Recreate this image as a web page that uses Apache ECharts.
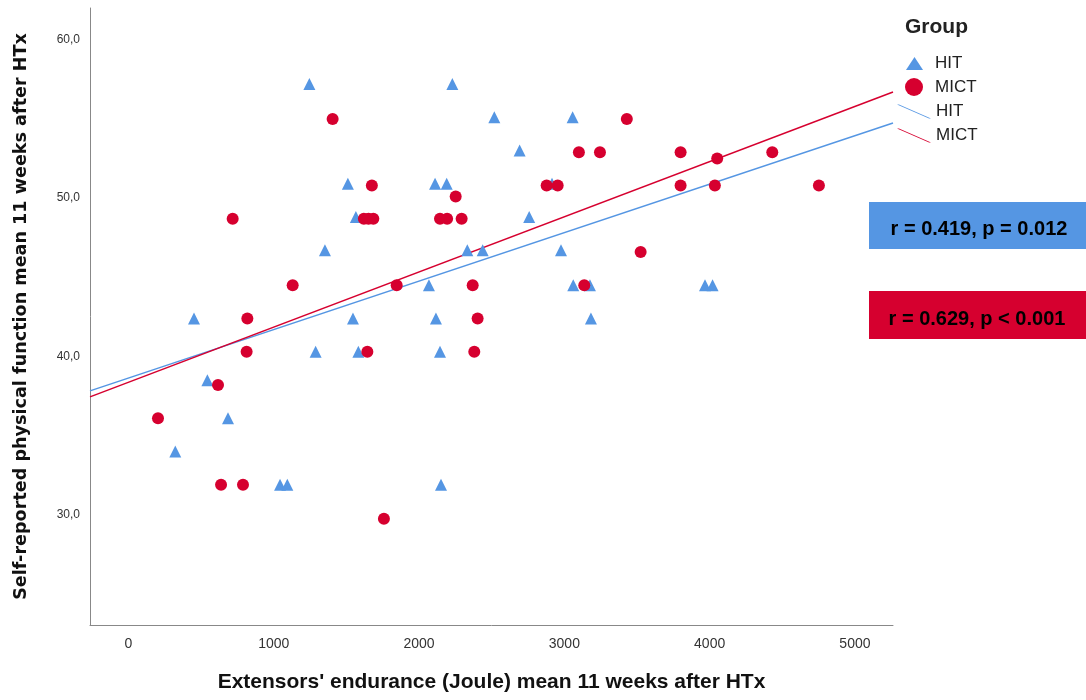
<!DOCTYPE html>
<html>
<head>
<meta charset="utf-8">
<script src="https://cdn.jsdelivr.net/npm/echarts@6/dist/echarts.min.js"></script>
<style>html,body{margin:0;padding:0;background:#fff}#c{width:1086px;height:700px}</style>
</head>
<body>
<div id="c"></div>
<script>
// Data
const hitX = [1245,1510,1565,1352,2229,2518,3057,2692,2110,2190,2758,2915,2332,2438,2977,2068,3061,3176,3968,4020,451,1545,1288,1582,543,685,322,1043,1093,2116,3183,2144,2151];
const hitY = [57.2,50.9,48.8,46.7,57.2,55.1,55.1,53.0,50.9,50.9,48.8,50.9,46.7,46.7,46.7,44.5,44.5,44.5,44.5,44.5,42.4,42.4,40.3,40.3,38.5,36.1,34.0,31.9,31.9,42.4,42.4,40.3,31.9];
const mictX = [1405,1675,717,1620,1652,1685,1130,3430,3100,3245,3800,2252,2144,2193,2293,2878,2954,3800,3525,1846,2369,3137,4052,4431,4036,4752,818,813,1644,616,203,637,788,1758,2403,2380];
const mictY = [55.0,50.8,48.7,48.7,48.7,48.7,44.5,55.0,52.9,52.9,52.9,50.1,48.7,48.7,48.7,50.8,50.8,50.8,46.6,44.5,44.5,44.5,52.5,52.9,50.8,50.8,42.4,40.3,40.3,38.2,36.1,31.9,31.9,29.75,42.4,40.3];
// Fit lines (endpoints)
const fitHitX = [-265, 5262];
const fitHitY = [37.83, 54.74];
const fitMictX = [-265, 5262];
const fitMictY = [37.45, 56.7];
const xTicks = [0,1000,2000,3000,4000,5000];
const yTicks = [30,40,50,60];
const statHIT = 'r = 0.419, p = 0.012';
const statMICT = 'r = 0.629, p < 0.001';

const BLUE = '#5596e3';
const RED = '#d6002f';
const FONT = '"Liberation Sans", Arial, sans-serif';
const zip = (a,b) => a.map((v,i)=>[v,b[i]]);
const LINE_ICON = 'path://M0,0L2,0L34,14L32,14Z';

const chart = echarts.init(document.getElementById('c'));
chart.setOption({
  animation: false,
  grid: {left: 90, top: 8, right: 193, bottom: 75},
  xAxis: {
    type: 'value', min: -265, max: 5262,
    name: "Extensors' endurance (Joule) mean 11 weeks after HTx",
    nameLocation: 'middle', nameGap: 47,
    nameTextStyle: {fontFamily: FONT, fontWeight: 'bold', fontSize: 21, color: '#111'},
    splitLine: {show: false},
    axisLine: {onZero: false, lineStyle: {color: '#888', width: 1}},
    axisTick: {show: false},
    axisLabel: {customValues: xTicks, margin: 12, fontSize: 14, color: '#333', fontFamily: FONT,
      formatter: v => String(v)}
  },
  yAxis: {
    type: 'value', min: 23.05, max: 62,
    name: 'Self-reported physical function mean 11 weeks after HTx',
    nameLocation: 'middle', nameGap: 60,
    nameTextStyle: {fontFamily: '"DejaVu Sans", sans-serif', fontWeight: 'bold', fontSize: 17.6, color: '#111'},
    splitLine: {show: false},
    axisLine: {show: true, onZero: false, lineStyle: {color: '#888', width: 1}},
    axisTick: {show: false},
    axisLabel: {customValues: yTicks, margin: 10, fontSize: 12, color: '#333', fontFamily: FONT,
      formatter: v => v.toFixed(1).replace('.', ',')}
  },
  legend: [
    {
      orient: 'vertical', left: 906, top: 55, padding: 0, itemWidth: 17, itemHeight: 13,
      data: [{name: 'HIT', icon: 'triangle', itemStyle: {color: BLUE}}],
      textStyle: {fontSize: 17, color: '#222', fontFamily: FONT, padding: [0,0,0,7]},
      selectedMode: false
    },
    {
      orient: 'vertical', left: 905, top: 78, padding: 0, itemWidth: 18, itemHeight: 18,
      data: [{name: 'MICT', icon: 'circle', itemStyle: {color: RED}}],
      textStyle: {fontSize: 17, color: '#222', fontFamily: FONT, padding: [0,0,0,7]},
      selectedMode: false
    },
    {
      orient: 'vertical', left: 897, top: 103, padding: 0, itemGap: 7, itemWidth: 34, itemHeight: 14,
      data: [
        {name: 'HIT fit', icon: LINE_ICON, itemStyle: {color: BLUE}},
        {name: 'MICT fit', icon: LINE_ICON, itemStyle: {color: RED}}
      ],
      formatter: n => n.replace(' fit', ''),
      textStyle: {fontSize: 17, color: '#222', fontFamily: FONT},
      selectedMode: false
    }
  ],
  graphic: [
    {type: 'text', left: 905, top: 17, style: {text: 'Group', fontSize: 21, fontWeight: 'bold', fill: '#222', fontFamily: FONT}},
    {type: 'rect', shape: {x: 869, y: 202, width: 217, height: 47}, style: {fill: BLUE}},
    {type: 'text', x: 979, y: 229, style: {text: statHIT, fontSize: 20, fontWeight: 'bold', fill: '#000', align: 'center', verticalAlign: 'middle', fontFamily: FONT}},
    {type: 'rect', shape: {x: 869, y: 291, width: 217, height: 48}, style: {fill: RED}},
    {type: 'text', x: 977, y: 319, style: {text: statMICT, fontSize: 20, fontWeight: 'bold', fill: '#000', align: 'center', verticalAlign: 'middle', fontFamily: FONT}}
  ],
  series: [
    {name: 'HIT fit', type: 'line', data: zip(fitHitX, fitHitY), symbol: 'none', lineStyle: {color: BLUE, width: 1.5}, itemStyle: {color: BLUE}, z: 1},
    {name: 'MICT fit', type: 'line', data: zip(fitMictX, fitMictY), symbol: 'none', lineStyle: {color: RED, width: 1.5}, itemStyle: {color: RED}, z: 1},
    {name: 'HIT', type: 'scatter', data: zip(hitX, hitY), symbol: 'triangle', symbolSize: 12, itemStyle: {color: BLUE, opacity: 1}, z: 2},
    {name: 'MICT', type: 'scatter', data: zip(mictX, mictY), symbol: 'circle', symbolSize: 12, itemStyle: {color: RED, opacity: 1}, z: 3}
  ]
});
</script>
</body>
</html>
